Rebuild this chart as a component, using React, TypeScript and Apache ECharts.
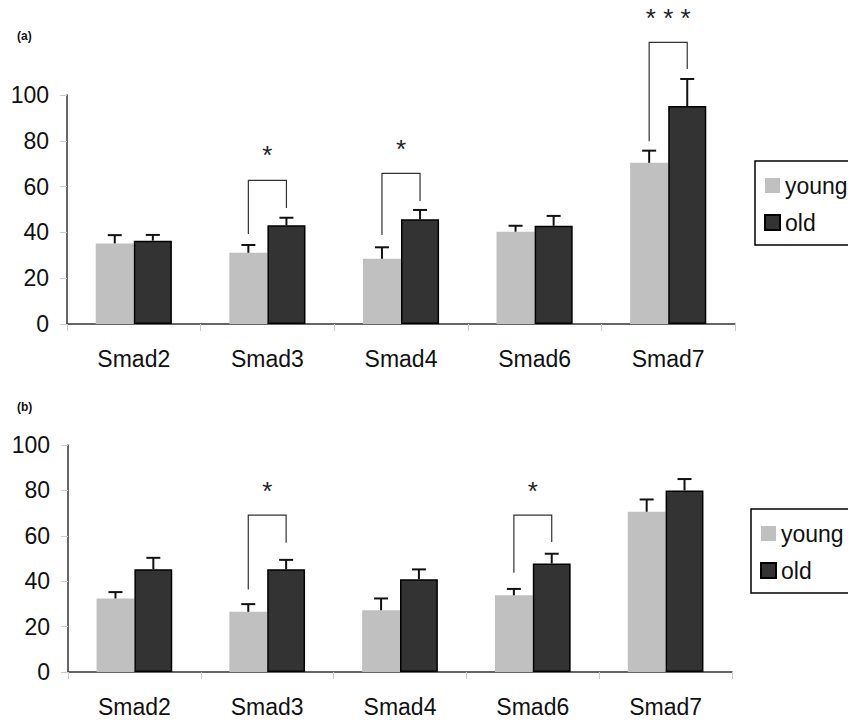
import React, { useEffect, useRef } from "react";
import * as echarts from "echarts";

const categories = ["Smad2", "Smad3", "Smad4", "Smad6", "Smad7"];
const seriesNames = ["young", "old"];

// Panel (a)
const youngA = [35.2, 31.1, 28.5, 40.3, 70.4];
const youngErrA = [3.6, 3.4, 5.0, 2.6, 5.3];
const oldA = [36.4, 43.1, 45.7, 42.9, 95.2];
const oldErrA = [2.5, 3.3, 4.1, 4.3, 11.8];

// Panel (b)
const youngB = [32.4, 26.5, 27.2, 33.8, 70.6];
const youngErrB = [2.8, 3.4, 5.2, 2.8, 5.4];
const oldB = [45.3, 45.3, 40.9, 47.8, 80.0];
const oldErrB = [5.0, 4.1, 4.3, 4.3, 5.0];

// Significance brackets: [category index, young leg end, old leg end, bracket top, star level]
const bracketsA = [
  [1, 39.3, 50.7, 62.7, 75],
  [2, 38.9, 53.7, 65.8, 77.8],
  [4, 79.8, 111.4, 123, 135],
];
const bracketLabelsA = ["*", "*", "* * *"];
const bracketsB = [
  [1, 36.3, 56.9, 69.1, 80.9],
  [3, 43.7, 57.3, 69.1, 80.9],
];
const bracketLabelsB = ["*", "*"];

const yMin = 0;
const yMax = 100;
const yStep = 20;

const panelLabels = ["(a)", "(b)"];

const YOUNG = "#c0c0c0";
const OLD = "#333333";
const FONT = "Liberation Sans, Arial, sans-serif";
const FS = 23;
const CAT_GAP = 0.43;
const BAR_FRAC = (1 - CAT_GAP) / 2;

function errSeries(gridIdx: number, vals: number[], errs: number[], sign: number) {
  return {
    type: "custom",
    xAxisIndex: gridIdx,
    yAxisIndex: gridIdx,
    clip: false,
    z: 5,
    silent: true,
    encode: { x: 0, y: 1 },
    data: vals.map((v, i) => [i, v, errs[i]]),
    renderItem: (params: any, api: any) => {
      const cat = api.value(0);
      const v = api.value(1);
      const e = api.value(2);
      const base = api.coord([cat, v]);
      const top = api.coord([cat, v + e]);
      const band = api.size([1, 0])[0];
      const cx = base[0] + (sign * band * BAR_FRAC) / 2;
      const st = { stroke: "#111", lineWidth: 2 };
      return {
        type: "group",
        children: [
          { type: "line", shape: { x1: cx, y1: base[1], x2: cx, y2: top[1] }, style: st },
          { type: "line", shape: { x1: cx - 7, y1: top[1], x2: cx + 7, y2: top[1] }, style: st },
        ],
      };
    },
  };
}

function bracketSeries(gridIdx: number, data: number[][], labels: string[]) {
  return {
    type: "custom",
    xAxisIndex: gridIdx,
    yAxisIndex: gridIdx,
    clip: false,
    z: 6,
    silent: true,
    encode: { x: 0, y: 3 },
    data: data,
    renderItem: (params: any, api: any) => {
      const cat = api.value(0);
      const c = api.coord([cat, api.value(3)]);
      const band = api.size([1, 0])[0];
      const half = (band * BAR_FRAC) / 2;
      const xL = c[0] - half;
      const xR = c[0] + half;
      const yL = api.coord([cat, api.value(1)])[1];
      const yR = api.coord([cat, api.value(2)])[1];
      const yS = api.coord([cat, api.value(4)])[1];
      return {
        type: "group",
        children: [
          {
            type: "polyline",
            shape: { points: [[xL, yL], [xL, c[1]], [xR, c[1]], [xR, yR]] },
            style: { fill: "none", stroke: "#333", lineWidth: 1.2 },
          },
          {
            type: "text",
            x: c[0],
            y: yS + 3,
            style: {
              text: labels[params.dataIndex],
              fontSize: 26,
              fontFamily: FONT,
              fill: "#222",
              align: "center",
              verticalAlign: "middle",
            },
          },
        ],
      };
    },
  };
}

export default function App() {
  const ref = useRef<HTMLDivElement>(null);
  useEffect(() => {
    document.body.style.margin = "0";
    const chart = echarts.init(ref.current!, null, { renderer: "svg" });
    const grids = [
      { left: 67, top: 95, width: 668, height: 229 },
      { left: 68, top: 445, width: 664, height: 227 },
    ];
    const xAxis = grids.map((_, i) => ({
      type: "category",
      gridIndex: i,
      data: categories,
      axisLine: { lineStyle: { color: "#333", width: 1.5 } },
      axisTick: { show: true, length: 7, lineStyle: { color: "#ccc" } },
      axisLabel: { fontSize: FS, color: "#111", fontFamily: FONT, margin: 23 },
    }));
    const yAxis = grids.map((_, i) => ({
      type: "value",
      gridIndex: i,
      min: yMin,
      max: yMax,
      interval: yStep,
      axisLine: { show: true, lineStyle: { color: "#333", width: 1.5 } },
      axisTick: { show: true, length: 7, lineStyle: { color: "#ccc" } },
      splitLine: { show: false },
      axisLabel: { fontSize: FS, color: "#111", fontFamily: FONT, margin: 18 },
    }));
    const barSeries = (gi: number, young: number[], old: number[]) => [
      {
        name: seriesNames[0],
        type: "bar",
        xAxisIndex: gi,
        yAxisIndex: gi,
        data: young,
        barGap: "0%",
        barCategoryGap: CAT_GAP * 100 + "%",
        itemStyle: { color: YOUNG },
      },
      {
        name: seriesNames[1],
        type: "bar",
        xAxisIndex: gi,
        yAxisIndex: gi,
        data: old,
        barGap: "0%",
        barCategoryGap: CAT_GAP * 100 + "%",
        itemStyle: { color: OLD, borderColor: "#000", borderWidth: 1.5 },
      },
    ];
    const legendBase = {
      orient: "vertical",
      data: seriesNames,
      icon: "rect",
      itemWidth: 15,
      itemHeight: 15,
      itemGap: 14,
      padding: [13, 45, 11, 9],
      borderColor: "#000",
      borderWidth: 1.5,
      backgroundColor: "#fff",
      textStyle: { fontSize: FS, color: "#111", fontFamily: FONT },
      selectedMode: false,
    };
    chart.setOption({
      animation: false,
      backgroundColor: "#fff",
      title: [
        { text: panelLabels[0], left: 12, top: 25, textStyle: { fontSize: 12, fontWeight: "bold", fontFamily: FONT, color: "#111" } },
        { text: panelLabels[1], left: 12, top: 396, textStyle: { fontSize: 12, fontWeight: "bold", fontFamily: FONT, color: "#111" } },
      ],
      legend: [
        { ...legendBase, left: 755, top: 161 },
        { ...legendBase, left: 751, top: 509 },
      ],
      grid: grids,
      xAxis,
      yAxis,
      series: [
        ...barSeries(0, youngA, oldA),
        ...barSeries(1, youngB, oldB),
        errSeries(0, youngA, youngErrA, -1),
        errSeries(0, oldA, oldErrA, 1),
        errSeries(1, youngB, youngErrB, -1),
        errSeries(1, oldB, oldErrB, 1),
        bracketSeries(0, bracketsA, bracketLabelsA),
        bracketSeries(1, bracketsB, bracketLabelsB),
      ],
    });
    return () => chart.dispose();
  }, []);
  return <div ref={ref} style={{ position: "fixed", left: 0, top: 0, width: 848, height: 721 }} />;
}
